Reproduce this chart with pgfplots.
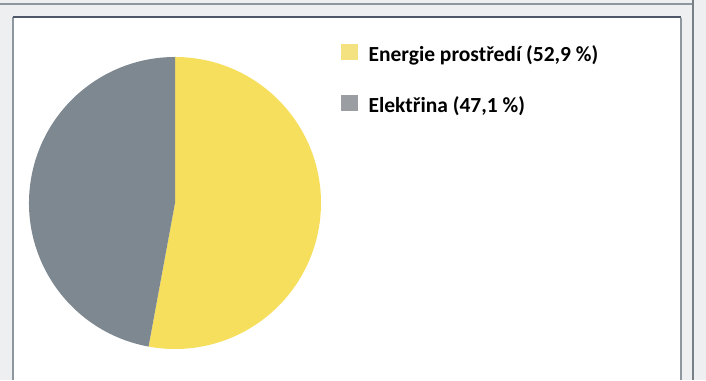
\documentclass[border=0pt]{standalone}
\usepackage{fontspec}
\setmainfont{Carlito}
\usepackage{pgfplots}
\usepackage{pgfplotstable}
\pgfplotsset{compat=1.18}

\definecolor{pieyellow}{HTML}{F7DF5E}
\definecolor{piegray}{HTML}{7E8891}
\definecolor{keyyellow}{HTML}{F3E27F}
\definecolor{keygray}{HTML}{9A9DA1}
\definecolor{pageback}{HTML}{EDEFF1}
\definecolor{rulegray}{HTML}{8E979D}
\definecolor{ruledark}{HTML}{4E5868}

% shares of the two energy sources, in percent
\pgfplotstableread{
share
52.9
47.1
}\piedata

\pgfplotstablegetelem{0}{share}\of\piedata
\let\shareA\pgfplotsretval
\pgfplotstablegetelem{1}{share}\of\piedata
\let\shareB\pgfplotsretval
\pgfmathsetmacro\angA{90-3.6*\shareA}
\pgfmathsetmacro\angB{\angA-3.6*\shareB}

\newcommand\pct[1]{\pgfmathprintnumber[fixed,zerofill,precision=1,use comma,assume math mode=true]{#1}}

\begin{document}
\begin{tikzpicture}
\begin{axis}[
  scale only axis,
  width=706pt, height=380pt,
  xmin=0, xmax=706, ymin=0, ymax=380,
  hide axis,
  legend cell align=left,
  legend style={
    at={(axis cs:341,337)}, anchor=north west,
    draw=none, fill=none,
    font=\bfseries\fontsize{21.5}{25}\selectfont,
    row sep=30pt, column sep=9pt, inner sep=0pt,
    nodes={inner sep=2pt},
  },
  legend image code/.code={\fill[#1] (0pt,-5pt) rectangle (16pt,10pt);},
]
% page and frame
\fill[pageback] (axis cs:0,0) rectangle (axis cs:706,380);
\draw[rulegray, line width=1.2pt] (axis cs:0,376) -- (axis cs:694,376);
\fill[white] (axis cs:13,0) rectangle (axis cs:681,363);
\draw[rulegray, line width=1.2pt] (axis cs:13,0) -- (axis cs:13,363);
\draw[ruledark, line width=1.4pt] (axis cs:13,363) -- (axis cs:681,363);
\draw[rulegray, line width=1.2pt] (axis cs:681,362) -- (axis cs:681,0);
\draw[rulegray!85!black, line width=1.5pt] (axis cs:693,380) -- (axis cs:693,0);

% pie slices, clockwise from the top
\fill[pieyellow] (axis cs:175,177) -- ++(90:146pt)
  arc[start angle=90, end angle=\angA, radius=146pt] -- cycle;
\fill[piegray] (axis cs:175,177) -- ++(\angA:146pt)
  arc[start angle=\angA, end angle=\angB, radius=146pt] -- cycle;

\addlegendimage{keyyellow}
\addlegendentry{Energie prostředí (\pct{\shareA} \%)}
\addlegendimage{keygray}
\addlegendentry{Elektřina (\pct{\shareB} \%)}
\end{axis}
\end{tikzpicture}
\end{document}
